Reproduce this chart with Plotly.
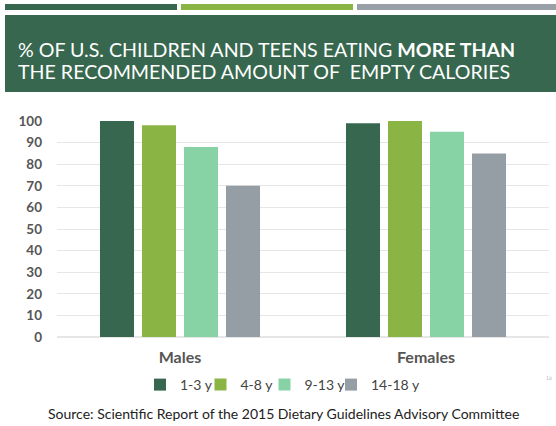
import plotly.graph_objects as go

# Data
groups = ["Males", "Females"]
age_bands = ["1-3 y", "4-8 y", "9-13 y", "14-18 y"]
pct_1_3 = [100, 99]
pct_4_8 = [98, 100]
pct_9_13 = [88, 95]
pct_14_18 = [70, 85]
series = [pct_1_3, pct_4_8, pct_9_13, pct_14_18]
colors = ["#37684f", "#8ab545", "#88d3a5", "#959da5"]
y_ticks = [0, 10, 20, 30, 40, 50, 60, 70, 80, 90, 100]

W, H = 556, 426
L, R, T, B = 57, 7, 121, 89
pw, ph = W - L - R, H - T - B


def px_x(x):
    return (x - L) / pw


def px_y(y):
    return (H - B - y) / ph


# one small legend per age band so the entries sit close together
legend_ids = ["legend", "legend2", "legend3", "legend4"]
legend_marker_x = [165, 225.5, 289.5, 356]

fig = go.Figure()
for name, vals, col, lg in zip(age_bands, series, colors, legend_ids):
    fig.add_trace(go.Bar(x=groups, y=vals, name=name, marker_color=col,
                         marker_line_width=0, legend=lg))

shapes = []
# header stripes
for x0, x1, c in [(5, 177, "#37684f"), (181, 353, "#8ab545"), (357, 556, "#9aa0a8")]:
    shapes.append(dict(type="rect", xref="paper", yref="paper",
                       x0=px_x(x0), x1=px_x(x1), y0=px_y(10), y1=px_y(4),
                       fillcolor=c, line_width=0, layer="above"))
# title banner
shapes.append(dict(type="rect", xref="paper", yref="paper",
                   x0=px_x(5), x1=px_x(556), y0=px_y(92), y1=px_y(15),
                   fillcolor="#37684f", line_width=0, layer="above"))

title_font = dict(family="Lato", size=19.6, color="#ffffff")
annotations = [
    dict(text="% OF U.S. CHILDREN AND TEENS EATING <b>MORE THAN</b>",
         xref="paper", yref="paper", x=px_x(16), y=px_y(49),
         xanchor="left", yanchor="middle", align="left", showarrow=False,
         font=title_font),
    dict(text="THE RECOMMENDED AMOUNT OF  EMPTY CALORIES",
         xref="paper", yref="paper", x=px_x(16), y=px_y(71),
         xanchor="left", yanchor="middle", align="left", showarrow=False,
         font=title_font),
    dict(text="Source: Scientific Report of the 2015 Dietary Guidelines Advisory Committee",
         xref="paper", yref="paper", x=px_x(283.5), y=px_y(413),
         xanchor="center", yanchor="middle", showarrow=False,
         font=dict(family="Lato", size=14, color="#222222")),
    dict(text="16", xref="paper", yref="paper", x=px_x(549), y=px_y(378),
         xanchor="center", yanchor="middle", showarrow=False,
         font=dict(family="Lato", size=5, color="#bbbbbb")),
]

layout_legends = {}
for lg, mx in zip(legend_ids, legend_marker_x):
    layout_legends[lg] = dict(
        orientation="h", x=px_x(mx - 25), y=px_y(385), xanchor="left",
        yanchor="middle", font=dict(family="Lato", size=14, color="#444444"),
        itemwidth=30, bgcolor="rgba(0,0,0,0)", borderwidth=0)

fig.update_layout(
    width=W, height=H,
    margin=dict(l=L, r=R, t=T, b=B, autoexpand=False),
    paper_bgcolor="white", plot_bgcolor="white",
    barmode="group", bargap=0.317, bargroupgap=0.19,
    shapes=shapes, annotations=annotations,
    showlegend=True,
    xaxis=dict(showline=False, ticks="", showgrid=False,
               tickfont=dict(family="Lato", size=16, color="#555555", weight="bold"),
               ticklabelstandoff=9),
    yaxis=dict(range=[0, 100], tickvals=y_ticks, showgrid=True, gridcolor="#e6e6e6",
               gridwidth=1, zeroline=True, zerolinecolor="#e6e6e6",
               tickfont=dict(family="Lato", size=13.5, color="#555555", weight="bold"),
               ticklabelstandoff=14),
    **layout_legends,
)

fig.write_html("out.html")
